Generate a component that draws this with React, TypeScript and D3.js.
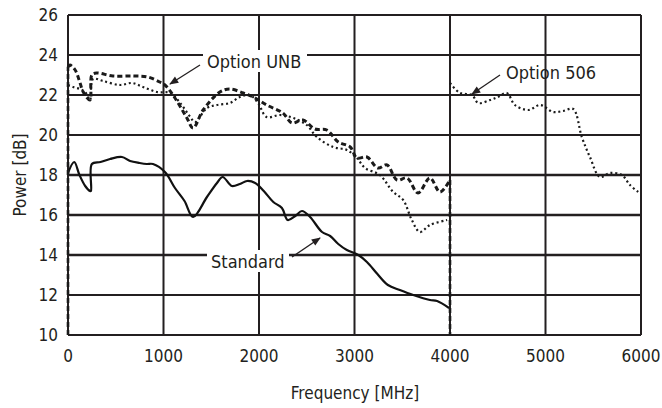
import React from "react";
import * as d3 from "d3";

type Pt = [number, number];

const xTicks = [0, 1000, 2000, 3000, 4000, 5000, 6000];
const yTicks = [10, 12, 14, 16, 18, 20, 22, 24, 26];

// Standard (solid)
const standard: Pt[] = [
	[0, 18.1], [65, 18.65], [120, 18.0], [180, 17.45], [230, 17.2], [240, 17.2],
	[250, 18.55], [340, 18.65], [440, 18.8], [565, 18.9], [650, 18.7], [750, 18.6],
	[825, 18.55], [890, 18.55], [1015, 18.15], [1120, 17.35], [1220, 16.7],
	[1310, 15.9], [1455, 16.9], [1560, 17.6], [1620, 17.9], [1715, 17.45],
	[1800, 17.55], [1875, 17.7], [1960, 17.6], [2050, 17.2], [2150, 16.65],
	[2240, 16.35], [2300, 15.75], [2380, 15.95], [2450, 16.2], [2535, 15.9],
	[2660, 15.15], [2745, 14.95], [2830, 14.55], [2920, 14.25], [3040, 14.0],
	[3130, 13.65], [3240, 13.05], [3350, 12.5], [3475, 12.25], [3615, 12.0],
	[3790, 11.75], [3865, 11.7], [3990, 11.35],
];

// Option UNB, upper (dashed)
const unbDashed: Pt[] = [
	[0, 23.4], [20, 23.5], [75, 23.25], [120, 22.7], [160, 22.15],
	[230, 21.75], [250, 23.0], [300, 23.1], [470, 22.95], [680, 22.95], [835, 22.9],
	[960, 22.65], [1015, 22.5], [1120, 21.85], [1245, 20.85], [1310, 20.35],
	[1415, 21.25], [1590, 22.15], [1695, 22.3], [1835, 22.1], [1940, 21.9],
	[2080, 21.5], [2250, 21.1], [2345, 20.6], [2460, 20.75], [2585, 20.3],
	[2710, 20.25], [2830, 19.65], [2955, 19.4], [3025, 18.85], [3130, 18.9],
	[3245, 18.35], [3340, 18.5], [3445, 17.75], [3550, 17.85], [3665, 17.1],
	[3790, 17.85], [3895, 17.15], [4000, 17.75],
];
// the dashed trace runs down to the floor at both band edges
const unbEdges: Pt[][] = [
	[[0, 10], [0, 23.4]],
	[[4000, 17.75], [4000, 10]],
];

// Option UNB, lower (dotted)
const unbDotted: Pt[] = [
	[0, 22.5], [55, 22.4], [125, 22.3], [180, 22.15], [230, 21.75], [262, 22.8],
	[365, 22.7], [545, 22.5], [670, 22.6], [785, 22.4], [930, 22.15], [1070, 22.1],
	[1175, 21.6], [1280, 20.9], [1330, 20.65], [1455, 21.35], [1560, 21.5],
	[1695, 21.6], [1800, 21.9], [1905, 22.0], [1990, 21.6], [2080, 20.9],
	[2220, 21.0], [2360, 20.85], [2500, 20.5], [2605, 19.9], [2775, 19.4],
	[2920, 19.25], [3025, 18.85], [3110, 18.35], [3265, 18.0], [3405, 17.15],
	[3510, 16.75], [3600, 15.75], [3685, 15.15], [3790, 15.5], [3970, 15.75],
];

// Option 506 (dotted)
const opt506: Pt[] = [
	[4000, 22.6], [4105, 22.1], [4230, 22.0], [4295, 21.6], [4420, 21.75],
	[4500, 21.9], [4595, 22.1], [4680, 21.5], [4820, 21.25], [4945, 21.5],
	[5080, 21.15], [5185, 21.2], [5290, 21.3], [5380, 19.9], [5465, 18.9],
	[5570, 17.9], [5675, 18.1], [5800, 18.0], [5885, 17.5], [5970, 17.15],
];

const W = 662;
const H = 408;
const m = { left: 68, right: 21, top: 15, bottom: 73 };
const font = "'DejaVu Sans Condensed', 'Roboto', sans-serif";
const ink = "#231f20";

export default function App() {
	const x = d3.scaleLinear().domain([0, 6000]).range([m.left, W - m.right]);
	const y = d3.scaleLinear().domain([10, 26]).range([H - m.bottom, m.top]);
	const line = d3
		.line<Pt>()
		.x((d) => x(d[0]))
		.y((d) => y(d[1]))
		.curve(d3.curveCatmullRom.alpha(0.5));
	const straight = d3
		.line<Pt>()
		.x((d) => x(d[0]))
		.y((d) => y(d[1]));

	const thick = new Set([14, 16, 18]);

	return (
		<svg
			width={W}
			height={H}
			style={{ position: "absolute", left: 0, top: 0, background: "#fff" }}
			fontFamily={font}
		>
			<defs>
				<marker id="arr" viewBox="0 0 10 10" refX="9" refY="5" markerWidth="9" markerHeight="7" orient="auto">
					<path d="M0,1 L10,5 L0,9 z" fill={ink} />
				</marker>
			</defs>
			{/* grid */}
			{yTicks.map((t) => (
				<line
					key={"y" + t}
					x1={x(0)}
					x2={x(6000)}
					y1={y(t)}
					y2={y(t)}
					stroke={ink}
					strokeWidth={thick.has(t) ? 2.6 : 2}
				/>
			))}
			{xTicks.map((t) => (
				<line
					key={"x" + t}
					x1={x(t)}
					x2={x(t)}
					y1={y(10)}
					y2={y(26)}
					stroke={ink}
					strokeWidth={2}
				/>
			))}
			{/* series */}
			<path d={line(standard) ?? ""} fill="none" stroke="#111" strokeWidth={2.2} strokeLinejoin="round" />
			<path d={line(unbDashed) ?? ""} fill="none" stroke="#1a1a1a" strokeWidth={3} strokeDasharray="5,3" />
			{unbEdges.map((seg, i) => (
				<path key={"e" + i} d={straight(seg) ?? ""} fill="none" stroke="#1a1a1a" strokeWidth={2.6} strokeDasharray="5,3" />
			))}
			<path d={line(unbDotted) ?? ""} fill="none" stroke="#1a1a1a" strokeWidth={2.2} strokeDasharray="2,2.8" />
			<path d={line(opt506) ?? ""} fill="none" stroke="#1a1a1a" strokeWidth={2.2} strokeDasharray="2,2.8" />
			{/* tick labels */}
			{yTicks.map((t) => (
				<text key={"yl" + t} x={58} y={y(t)} dy="0.36em" textAnchor="end" fontSize={17} fill={ink}>
					{t}
				</text>
			))}
			{xTicks.map((t) => (
				<text key={"xl" + t} x={x(t)} y={362} textAnchor="middle" fontSize={17} fill={ink}>
					{t}
				</text>
			))}
			<text x={355} y={399} textAnchor="middle" fontSize={17} fill={ink}>
				Frequency [MHz]
			</text>
			<text transform="translate(26,175) rotate(-90)" textAnchor="middle" fontSize={17} fill={ink}>
				Power [dB]
			</text>
			{/* annotations */}
			<rect x={203} y={50} width={104} height={22} fill="#fff" />
			<text x={207} y={68} fontSize={18} fill={ink}>Option UNB</text>
			<line x1={200} y1={65} x2={170} y2={84} stroke={ink} strokeWidth={1.3} markerEnd="url(#arr)" />

			<text x={506} y={79} fontSize={18} fill={ink}>Option 506</text>
			<line x1={500} y1={75} x2={472} y2={94} stroke={ink} strokeWidth={1.3} markerEnd="url(#arr)" />

			<rect x={207} y={250} width={82} height={22} fill="#fff" />
			<text x={211} y={268} fontSize={18} fill={ink}>Standard</text>
			<line x1={292} y1={257} x2={320} y2={238} stroke={ink} strokeWidth={1.3} markerEnd="url(#arr)" />
		</svg>
	);
}
